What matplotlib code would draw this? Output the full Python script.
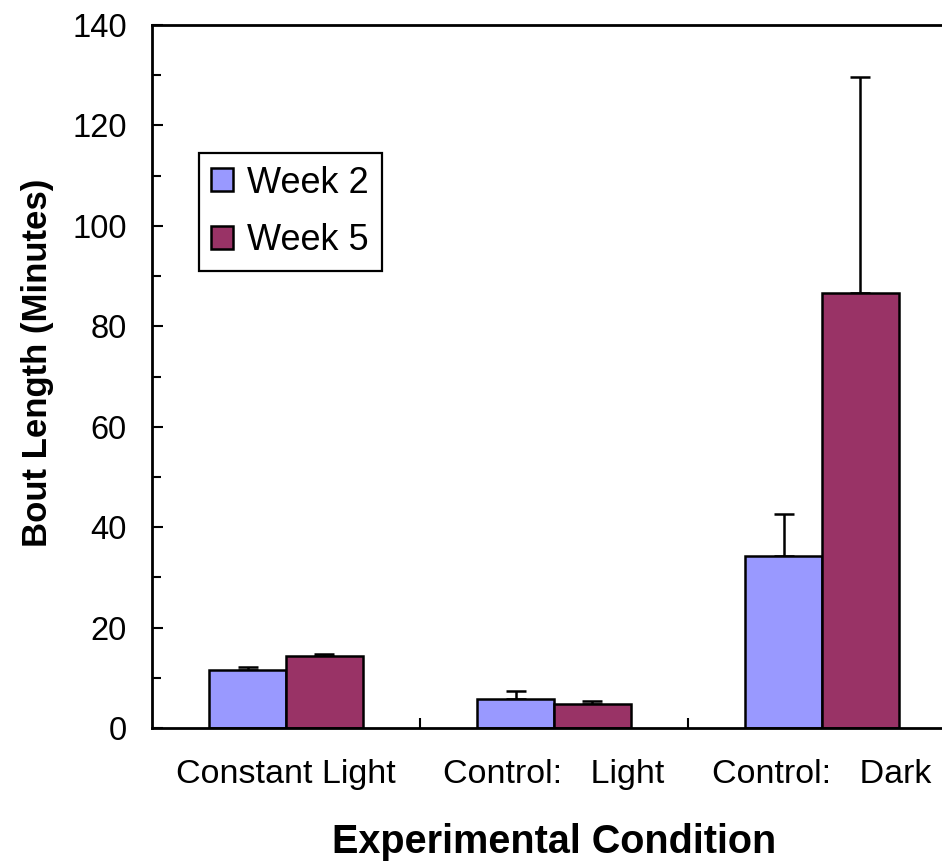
import matplotlib
matplotlib.use("Agg")
import matplotlib.pyplot as plt
import numpy as np
from matplotlib.ticker import MultipleLocator, FixedLocator

plt.rcParams['font.family'] = ['Liberation Sans', 'DejaVu Sans']

categories = ["Constant Light", "Control:   Light", "Control:   Dark"]
series_names = ["Week 2", "Week 5"]
week2 = [11.6, 5.8, 34.3]
week2_err = [0.5, 1.6, 8.3]
week5 = [14.3, 4.8, 86.6]
week5_err = [0.5, 0.6, 43.1]
colors = ["#9999FF", "#993366"]

fig = plt.figure(figsize=(9.42, 8.66), dpi=100)
ax = fig.add_axes([152/942, 138/866, 804/942, 703/866])

x = np.arange(len(categories))
w = 0.287
for vals, errs, off, col, name in [(week2, week2_err, -w/2, colors[0], series_names[0]),
                                   (week5, week5_err, w/2, colors[1], series_names[1])]:
    ax.bar(x + off, vals, width=w, color=col, edgecolor="black", linewidth=1.8, label=name, zorder=2)
    ax.errorbar(x + off, vals, yerr=[np.zeros(len(vals)), errs], fmt="none",
                ecolor="black", elinewidth=1.8, capsize=7.2, capthick=1.8, zorder=1)

ax.set_xlim(-0.5, 2.5)
ax.set_ylim(0, 140)
ax.yaxis.set_major_locator(MultipleLocator(20))
ax.yaxis.set_minor_locator(MultipleLocator(10))
ax.tick_params(axis="y", which="major", direction="in", length=8, width=1.5, labelsize=23.5, pad=18)
ax.tick_params(axis="y", which="minor", direction="in", length=6.5, width=1.5)
ax.set_xticks(x)
ax.set_xticklabels(categories)
ax.xaxis.set_minor_locator(FixedLocator([0.5, 1.5]))
ax.tick_params(axis="x", which="major", length=0, labelsize=24.5, pad=22)
ax.tick_params(axis="x", which="minor", direction="in", length=7.5, width=1.5)

for s in ["left", "bottom", "top"]:
    ax.spines[s].set_linewidth(2)
ax.spines["right"].set_visible(False)

ax.set_ylabel("Bout Length (Minutes)", fontsize=25, fontweight="bold")
ax.yaxis.set_label_coords(-0.122, 0.52)
ax.set_xlabel("Experimental Condition", fontsize=28.5, fontweight="bold", labelpad=24)

leg = ax.legend(loc="upper left", bbox_to_anchor=(0.058, 0.818), borderaxespad=0,
                fontsize=26, handlelength=0.6, handleheight=0.6, handletextpad=0.4,
                labelspacing=0.62, borderpad=0.35, fancybox=False, framealpha=1,
                edgecolor="black")
leg.get_frame().set_linewidth(1.6)

fig.savefig("out.png", dpi=100)
